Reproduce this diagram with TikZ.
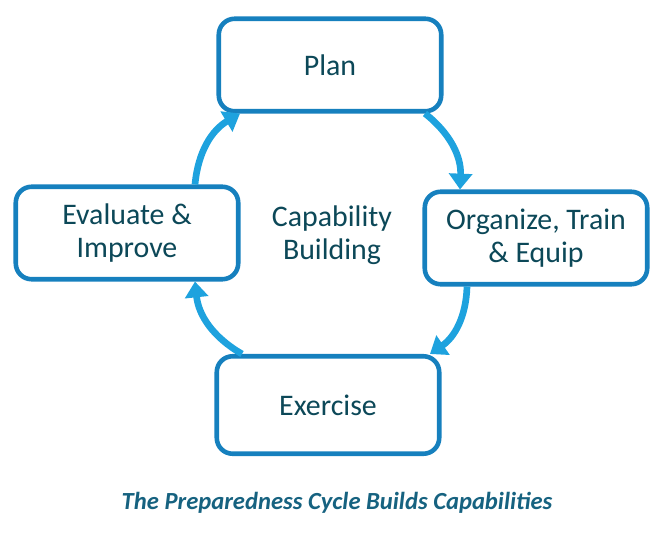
\documentclass[tikz,border=0pt]{standalone}
\usepackage{fontspec}
\setmainfont{Carlito}
\usetikzlibrary{arrows.meta}
\definecolor{boxedgec}{RGB}{22,128,190}
\definecolor{arrowc}{RGB}{30,162,222}
\definecolor{labelc}{RGB}{12,72,88}
\definecolor{captionc}{RGB}{22,98,128}

\begin{document}
\begin{tikzpicture}[x=0.02cm,y=-0.02cm,
        stage/.style={draw=boxedgec, line width=2.6pt, rounded corners=9pt, fill=white,
          align=center, text=labelc, font=\fontsize{17}{19}\selectfont,
          minimum width=4.45cm, minimum height=1.85cm, inner sep=0pt},
        cyclearr/.style={draw=arrowc, line width=3.8pt, -{Triangle[length=9pt,width=13pt]}}]
        \useasboundingbox (0,0) rectangle (666,533);

        \node[stage] (plan) at (330,65) {Plan};
        \node[stage] (organize) at (536,238) {Organize, Train\\\& Equip};
        \node[stage,minimum height=1.95cm] (exercise) at (328,405) {Exercise};
        \node[stage] (evaluate) at (127,233) {Evaluate \&\\Improve};

        \node[text=labelc, align=center, font=\fontsize{17}{19}\selectfont] (core) at (332,235) {Capability\\Building};

        \draw[cyclearr] ([xshift=1.36cm]evaluate.north) to[bend left=27] ([xshift=-1.8cm]plan.south);
        \draw[cyclearr] ([xshift=1.9cm]plan.south) to[bend left=27] ([xshift=-1.52cm]organize.north);
        \draw[cyclearr] ([xshift=-1.38cm]organize.south) to[bend left=27] ([xshift=2.04cm]exercise.north);
        \draw[cyclearr] ([xshift=-1.72cm]exercise.north) to[bend left=27] ([xshift=1.36cm]evaluate.south);

        \node[text=captionc, font=\fontsize{14}{16}\selectfont\bfseries\itshape] (caption) at (337,503)
        {The Preparedness Cycle Builds Capabilities};
\end{tikzpicture}
\end{document}
